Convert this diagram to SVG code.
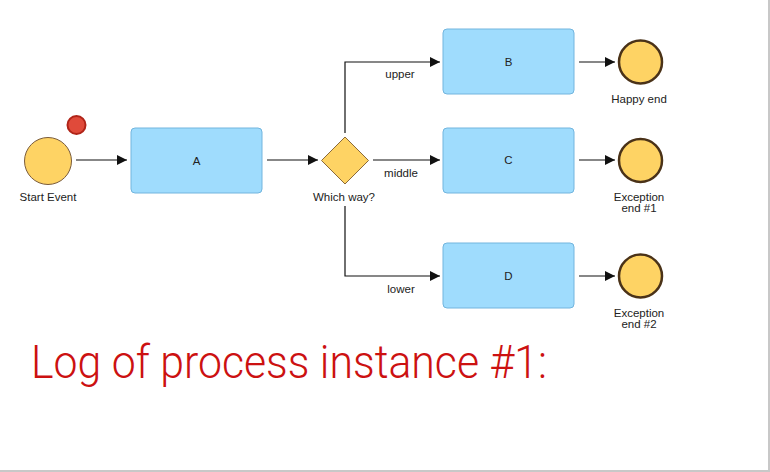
<svg xmlns="http://www.w3.org/2000/svg" width="770" height="472" viewBox="0 0 770 472">
<defs>
<marker id="ah" viewBox="0 0 10 10" refX="10" refY="5" markerWidth="10" markerHeight="10" markerUnits="userSpaceOnUse" orient="auto">
<path d="M0,0 L10,5 L0,10 z" fill="#111"/>
</marker>
</defs>
<style>
.task{fill:#9fdcfd;stroke:#72b5de;stroke-width:1}
.start{fill:#fed364;stroke:#7a5b3a;stroke-width:1}
.end{fill:#fed364;stroke:#4a3218;stroke-width:2.5}
.gw{fill:#fed364;stroke:#8a6a3a;stroke-width:1}
.lbl{font-family:"Liberation Sans",Arial,sans-serif;font-size:11.5px;fill:#222;text-anchor:middle}
.conn{fill:none;stroke:#111;stroke-width:1.2;marker-end:url(#ah)}
</style>
<rect width="770" height="472" fill="#fff"/>
<rect x="768" y="0" width="2" height="472" fill="#c8c8c8"/>
<rect x="0" y="470" width="770" height="2" fill="#c8c8c8"/>
<g id="connectors">
<line class="conn" x1="76" y1="160" x2="127" y2="160"/>
<line class="conn" x1="267" y1="160" x2="318" y2="160"/>
<polyline class="conn" points="345,133 345,62 440,62"/>
<line class="conn" x1="373" y1="160" x2="440" y2="160"/>
<polyline class="conn" points="345,206 345,276 440,276"/>
<line class="conn" x1="579" y1="62" x2="615" y2="62"/>
<line class="conn" x1="579" y1="160" x2="615" y2="160"/>
<line class="conn" x1="579" y1="276" x2="615" y2="276"/>
<text class="lbl" x="400" y="78">upper</text>
<text class="lbl" x="401" y="177">middle</text>
<text class="lbl" x="401" y="293">lower</text>
</g>
<g id="start">
<circle class="start" cx="48" cy="161" r="23.5"/>
<text class="lbl" x="48" y="201">Start Event</text>
</g>
<g id="token">
<circle cx="76.5" cy="125" r="9" fill="#e04a3a" stroke="#b02418" stroke-width="2"/>
</g>
<g id="A">
<rect class="task" x="131" y="128" width="131" height="65" rx="4"/>
<text class="lbl" x="196.5" y="165">A</text>
</g>
<g id="gateway">
<polygon class="gw" points="345,137 368.5,160.5 345,184 321.5,160.5"/>
<text class="lbl" x="344" y="201">Which way?</text>
</g>
<g id="B">
<rect class="task" x="443" y="29" width="131" height="65" rx="4"/>
<text class="lbl" x="508.5" y="66">B</text>
</g>
<g id="C">
<rect class="task" x="443" y="128" width="131" height="65" rx="4"/>
<text class="lbl" x="508.5" y="164">C</text>
</g>
<g id="D">
<rect class="task" x="443" y="243" width="131" height="65" rx="4"/>
<text class="lbl" x="508.5" y="280">D</text>
</g>
<g id="end1">
<circle class="end" cx="640.5" cy="62" r="21.5"/>
<text class="lbl" x="639" y="103">Happy end</text>
</g>
<g id="end2">
<circle class="end" cx="640.5" cy="160.5" r="21.5"/>
<text class="lbl" x="639" y="201">Exception</text>
<text class="lbl" x="639" y="212">end #1</text>
</g>
<g id="end3">
<circle class="end" cx="640.5" cy="276" r="21.5"/>
<text class="lbl" x="639" y="317">Exception</text>
<text class="lbl" x="639" y="328">end #2</text>
</g>
<text x="31" y="378" font-family="Roboto" font-weight="300" font-size="46" fill="#cc1111" textLength="516" lengthAdjust="spacingAndGlyphs">Log of process instance #1:</text>
</svg>
